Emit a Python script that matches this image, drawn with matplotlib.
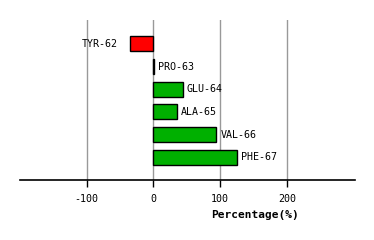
import matplotlib
matplotlib.use("Agg")
import matplotlib.pyplot as plt

residues = ["TYR-62", "PRO-63", "GLU-64", "ALA-65", "VAL-66", "PHE-67"]
percentages = [-34.5, 0.5, 44, 35, 94, 125]
xticks = [-100, 0, 100, 200]

fig = plt.figure(figsize=(3.74, 2.4), dpi=100)
ax = fig.add_axes([20 / 374, 60 / 240, 335 / 374, 160 / 240])

colors = ["#ff0000" if v < 0 else "#00b000" for v in percentages]
ypos = list(range(len(residues)))
ax.barh(ypos, percentages, height=0.66, color=colors, edgecolor="black", linewidth=1, zorder=3)

for y, v, name in zip(ypos, percentages, residues):
    if v < 0:
        ax.annotate(name, (v, y), xytext=(-9, 0), textcoords="offset points",
                    ha="right", va="center", family="DejaVu Sans Mono", fontsize=7.2)
    else:
        ax.annotate(name, (v, y), xytext=(3, 0), textcoords="offset points",
                    ha="left", va="center", family="DejaVu Sans Mono", fontsize=7.2)

ax.set_xlim(-200, 302)
ax.set_ylim(len(residues), -1.05)
ax.set_xticks(xticks)
ax.set_xticklabels([str(t) for t in xticks], family="DejaVu Sans Mono", fontsize=7.2)
ax.set_yticks([])
ax.grid(axis="x", color="#999999", linewidth=1, zorder=0)
for s in ["top", "right", "left"]:
    ax.spines[s].set_visible(False)
ax.spines["bottom"].set_linewidth(1.2)
ax.tick_params(axis="x", length=5, width=1, pad=5)

fig.text(255 / 374, 1 - 215 / 240, "Percentage(%)", ha="center", va="center",
         family="DejaVu Sans Mono", fontweight="bold", fontsize=8)

fig.savefig("out.png", dpi=100)
